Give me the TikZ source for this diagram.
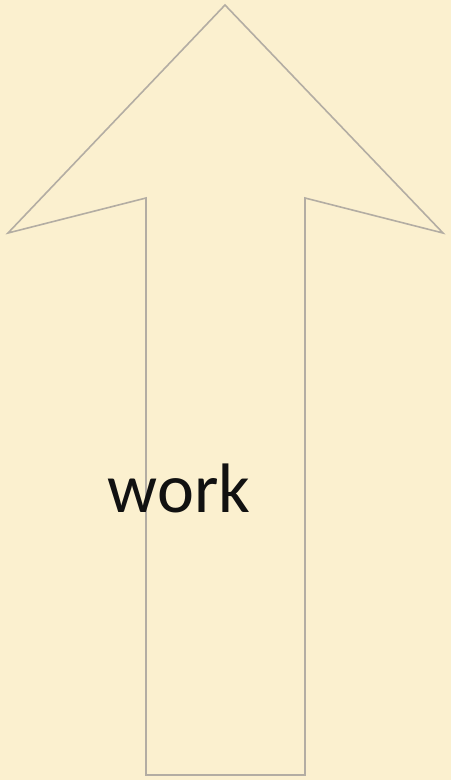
\documentclass[tikz,border=0pt]{standalone}
\usepackage{fontspec}
\setmainfont{Carlito}
\definecolor{setafundo}{HTML}{FBF0CF}
\definecolor{setalinha}{HTML}{B3ADA3}
\definecolor{setatexto}{HTML}{111111}
\tikzset{
  seta/.style={draw=setalinha,line width=1.6pt,line join=miter},
  rotulo/.style={font=\fontsize{70}{84}\selectfont,text=setatexto,inner sep=0pt,anchor=base},
}
\begin{document}
\begin{tikzpicture}[x=1pt,y=-1pt]
  \fill[setafundo] (0,0) rectangle (451,780);                                        % fundo
  \useasboundingbox (0,0) rectangle (451,780);
  \draw[seta] (225,5) -- (443,233) -- (305,198) -- (305,775) -- (146,775) -- (146,198) -- (8,233) -- cycle;
  \node[rotulo] (work) at (179,512) {work};
\end{tikzpicture}
\end{document}
